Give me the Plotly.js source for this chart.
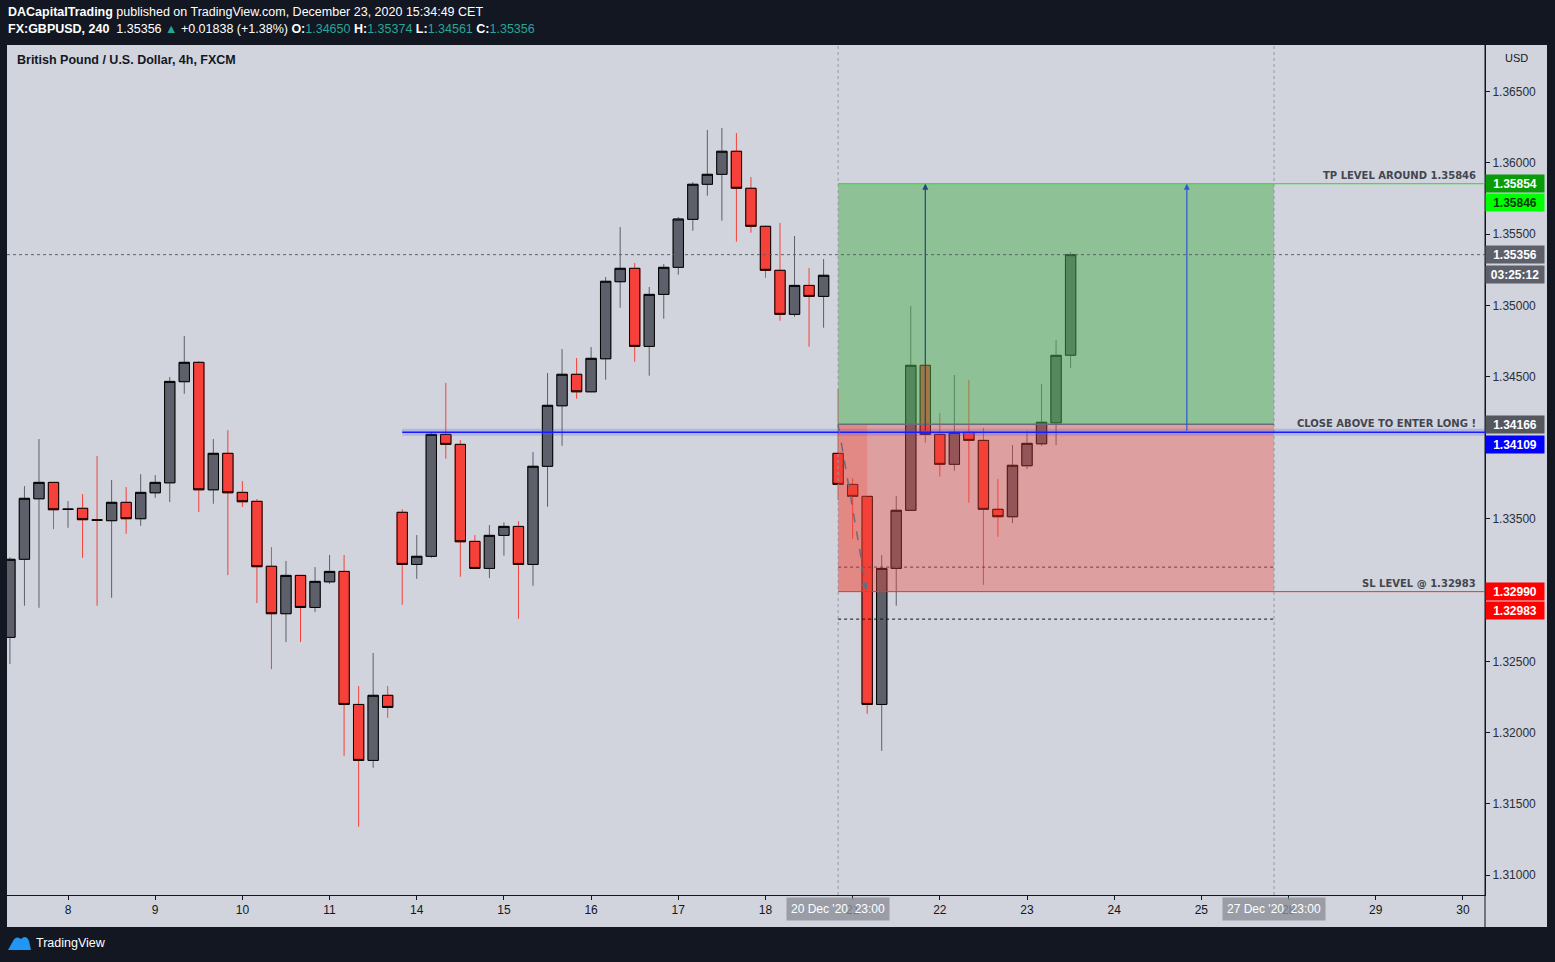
<!DOCTYPE html>
<html><head><meta charset="utf-8">
<script src="https://cdn.plot.ly/plotly-3.0.1.min.js"></script>
<style>html,body{margin:0;padding:0;background:#131722;overflow:hidden}#chart{width:1555px;height:962px}</style>
</head><body><div id="chart"></div>
<script>
// ---- Data: GBPUSD 4h candles (FXCM) ----
const opens = [1.32669,1.33217,1.33642,1.33757,1.33567,1.33575,1.33494,1.33488,1.33617,1.33502,
1.33684,1.33754,1.34464,1.34600,1.33705,1.33961,1.33687,1.33624,1.33168,1.32835,
1.33104,1.32879,1.33059,1.33132,1.32198,1.31805,1.32262,1.33547,1.33181,1.33238,
1.34094,1.34024,1.33343,1.33153,1.33385,1.33448,1.33181,1.33870,1.34295,1.34516,
1.34393,1.34625,1.35166,1.35260,1.34712,1.35077,1.35267,1.35604,1.35850,1.35920,
1.36082,1.35822,1.35555,1.35246,1.34937,1.35140,1.35063,1.33961,1.33743,1.33659,
1.32198,1.33153,1.33561,1.34579,1.34094,1.33884,1.34108,1.34052,1.33568,1.33516,
1.33874,1.34028,1.34175,1.34650];
const highs = [1.33231,1.33731,1.34061,1.33760,1.33626,1.33675,1.33942,1.33773,1.33724,1.33815,
1.33808,1.34497,1.34785,1.34609,1.34061,1.34124,1.33766,1.33640,1.33303,1.33205,
1.33106,1.33162,1.33247,1.33247,1.32327,1.32559,1.32327,1.33568,1.33387,1.34106,
1.34455,1.34054,1.33387,1.33457,1.33476,1.33485,1.33970,1.34525,1.34693,1.34630,
1.34707,1.35199,1.35550,1.35297,1.35129,1.35290,1.35620,1.35866,1.36231,1.36245,
1.36210,1.35901,1.35560,1.35578,1.35487,1.35262,1.35325,1.34412,1.33787,1.33662,
1.33247,1.33661,1.34995,1.34582,1.34244,1.34511,1.34476,1.34139,1.33780,1.34019,
1.34117,1.34447,1.34756,1.35374];
const lows = [1.32481,1.32891,1.32877,1.33429,1.33438,1.33228,1.32891,1.32947,1.33396,1.33452,
1.33649,1.33619,1.34379,1.33549,1.33607,1.33106,1.33584,1.32910,1.32446,1.32636,
1.32636,1.32846,1.33045,1.31837,1.31339,1.31753,1.32104,1.32898,1.33080,1.33228,
1.33923,1.33094,1.33150,1.33085,1.33242,1.32799,1.33031,1.33586,1.34014,1.34344,
1.34390,1.34478,1.34983,1.34604,1.34506,1.34906,1.35215,1.35524,1.35770,1.35594,
1.35447,1.35510,1.35194,1.34892,1.34920,1.34709,1.34843,1.33633,1.33361,1.32132,
1.31872,1.32891,1.33558,1.34035,1.33797,1.33839,1.33614,1.33038,1.33375,1.33471,
1.33851,1.34014,1.34019,1.34561];
const closes = [1.33217,1.33645,1.33757,1.33565,1.33569,1.33495,1.33492,1.33617,1.33502,1.33687,
1.33757,1.34466,1.34600,1.33705,1.33961,1.33684,1.33621,1.33165,1.32835,1.33104,
1.32879,1.33062,1.33132,1.32198,1.31805,1.32262,1.32177,1.33181,1.33238,1.34094,
1.34024,1.33340,1.33153,1.33385,1.33448,1.33181,1.33870,1.34298,1.34516,1.34393,
1.34628,1.35169,1.35260,1.34712,1.35077,1.35267,1.35606,1.35850,1.35920,1.36082,
1.35822,1.35555,1.35246,1.34937,1.35140,1.35063,1.35211,1.33743,1.33659,1.32198,
1.33153,1.33561,1.34579,1.34094,1.33884,1.34108,1.34052,1.33568,1.33516,1.33877,
1.34031,1.34179,1.34649,1.35356];

// Levels drawn on the chart
const tpLevel = 1.35854, tpLabel = 1.35846;
const entryLevel = 1.34166, blueLevel = 1.34109;
const slLevel = 1.32990, slLabel = 1.32983;
const lastPrice = 1.35356;
const midDotLevel = 1.33162, lowDotLevel = 1.32797;
const yTicks = [1.31,1.315,1.32,1.325,1.33,1.335,1.34,1.345,1.35,1.355,1.36,1.365];

// Time points (CET wall clock, stored as UTC numbers)
const firstBar = Date.UTC(2020,11,7,11), lastDay = Date.UTC(2020,11,31);
const posStartT = Date.UTC(2020,11,20,23), posEndT = Date.UTC(2020,11,27,23);
const blueStartT = Date.UTC(2020,11,13,23);
const arrow1T = Date.UTC(2020,11,21,23), arrow2T = Date.UTC(2020,11,24,23);
const darkZoneEndT = Date.UTC(2020,11,21,7);

// 4h bar schedule, FX market closed Fri 23:00 -> Sun 23:00
function buildSchedule(){
  const out=[]; let t=firstBar;
  while(t<lastDay){
    const d=new Date(t), wd=d.getUTCDay(), h=d.getUTCHours();
    const closed = wd===6 || (wd===5 && h>=23) || (wd===0 && h<23);
    if(!closed) out.push(t);
    t += 4*3600e3;
  }
  return out;
}
const schedule = buildSchedule();
const idxOf = t => schedule.indexOf(t);
const xs = opens.map((_,i)=>i);
const tickVals=[], tickText=[];
schedule.forEach((t,i)=>{const d=new Date(t); if(d.getUTCHours()===3){tickVals.push(i); tickText.push(String(d.getUTCDate()));}});

const posStart = idxOf(posStartT), posEnd = idxOf(posEndT);
const xRange = [-0.2, 101.52];
const yRange = [1.30860, 1.36828];

// pixel helpers for paper-positioned decorations
const pxX = p => (p-7)/1478;
const pxY = p => (895-p)/850;

const UP='#5d606b', DN='#f5413a';
const wicks = {
  type:'candlestick', x:xs, open:opens, high:highs, low:lows, close:closes,
  increasing:{line:{color:UP,width:1},fillcolor:UP},
  decreasing:{line:{color:DN,width:1},fillcolor:DN},
  hoverinfo:'skip', showlegend:false
};
const bodies = {
  type:'candlestick', x:xs, open:opens, close:closes,
  high:opens.map((o,i)=>Math.max(o,closes[i])), low:opens.map((o,i)=>Math.min(o,closes[i])),
  increasing:{line:{color:'#000000',width:1},fillcolor:UP},
  decreasing:{line:{color:'#000000',width:1},fillcolor:DN},
  hoverinfo:'skip', showlegend:false
};

const FONT = 'Liberation Sans, Arial, sans-serif';
const shapes = [
  {type:'rect',xref:'paper',yref:'paper',x0:pxX(1485),x1:pxX(1547),y0:pxY(927),y1:pxY(45),fillcolor:'#d1d4dc',line:{width:0},layer:'below'},
  {type:'rect',xref:'paper',yref:'paper',x0:pxX(7),x1:pxX(1485),y0:pxY(927),y1:pxY(895),fillcolor:'#d1d4dc',line:{width:0},layer:'below'},
  {type:'line',xref:'paper',yref:'paper',x0:1,x1:1,y0:pxY(927),y1:1,line:{color:'#131722',width:1}},
  // position tool zones
  {type:'rect',x0:posStart,x1:posEnd,y0:entryLevel,y1:tpLevel,fillcolor:'rgba(76,175,80,0.5)',line:{width:0},layer:'above'},
  {type:'rect',x0:posStart,x1:posEnd,y0:slLevel,y1:entryLevel,fillcolor:'rgba(244,67,54,0.36)',line:{width:0},layer:'above'},
  {type:'rect',x0:posStart,x1:idxOf(darkZoneEndT),y0:slLevel,y1:entryLevel,fillcolor:'rgba(244,67,54,0.25)',line:{width:0},layer:'above'},
  // price / time marker lines
  {type:'line',xref:'paper',x0:0,x1:1,y0:lastPrice,y1:lastPrice,line:{color:'#5d606b',width:1,dash:'dot'},layer:'above'},
  {type:'line',yref:'paper',x0:posStart,x1:posStart,y0:0,y1:1,line:{color:'#9598a1',width:1,dash:'dot'},layer:'above'},
  {type:'line',yref:'paper',x0:posEnd,x1:posEnd,y0:0,y1:1,line:{color:'#9598a1',width:1,dash:'dot'},layer:'above'},
  {type:'line',x0:posStart,x1:posEnd,y0:midDotLevel,y1:midDotLevel,line:{color:'#7a3a46',width:1,dash:'dot'},layer:'above'},
  {type:'line',x0:posStart,x1:posEnd,y0:lowDotLevel,y1:lowDotLevel,line:{color:'#111111',width:1,dash:'dot'},layer:'above'},
  {type:'line',x0:idxOf(blueStartT),x1:xRange[1],y0:blueLevel,y1:blueLevel,line:{color:'rgba(60,80,255,0.22)',width:7},layer:'above'},
  {type:'line',x0:idxOf(blueStartT),x1:xRange[1],y0:blueLevel,y1:blueLevel,line:{color:'#1a1aff',width:1.5},layer:'above'},
  {type:'line',x0:posStart,x1:posEnd,y0:entryLevel,y1:entryLevel,line:{color:'#6a6d78',width:1.5},layer:'above'},
  {type:'line',x0:posStart,x1:xRange[1],y0:tpLevel,y1:tpLevel,line:{color:'#22dd22',width:1},layer:'above'},
  {type:'line',x0:posStart,x1:xRange[1],y0:slLevel,y1:slLevel,line:{color:'#ff2a2a',width:1},layer:'above'},
  {type:'path',path:`M ${posStart},${entryLevel-0.00004} Q ${posStart+1.1},1.3352 ${posStart+1.95},${slLevel+0.0001}`,line:{color:'#6a6d78',width:1.5,dash:'dash'},layer:'above'},
  // TradingView logo
  {type:'path',xref:'paper',yref:'paper',
   path:`M ${pxX(8)},${pxY(950)} L ${pxX(13)},${pxY(941)} Q ${pxX(16)},${pxY(935)} ${pxX(21)},${pxY(939)} Q ${pxX(26)},${pxY(934)} ${pxX(29)},${pxY(941)} L ${pxX(31)},${pxY(950)} Z`,
   fillcolor:'#2196f3',line:{width:0}}
];

function priceBox(val, text, bg, fg, shift){
  return {xref:'paper',yref:'y',x:1,y:val,xanchor:'left',yanchor:'middle',yshift:shift||0,
    text:'<b>'+text+'</b>',showarrow:false,bgcolor:bg,width:54,height:13,borderpad:2,
    font:{family:FONT,size:12,color:fg},align:'center'};
}
function levelText(val, text){
  return {xref:'paper',yref:'y',x:pxX(1478),y:val,xanchor:'right',yanchor:'bottom',yshift:1,
    text:'<b>'+text+'</b>',showarrow:false,font:{family:'DejaVu Sans, sans-serif',size:10,color:'#434651'}};
}
const teal = s => '<span style="color:#26a69a">'+s+'</span>';
const annotations = [
  {xref:'paper',yref:'paper',x:pxX(6),y:pxY(12),xanchor:'left',yanchor:'middle',showarrow:false,
   text:'<b>DACapitalTrading</b> published on TradingView.com, December 23, 2020 15:34:49 CET',font:{family:FONT,size:12.5,color:'#ffffff'}},
  {xref:'paper',yref:'paper',x:pxX(6),y:pxY(29),xanchor:'left',yanchor:'middle',showarrow:false,
   text:'<b>FX:GBPUSD, 240</b>  1.35356 '+teal('▲')+' +0.01838 (+1.38%) <b>O:</b>'+teal('1.34650')+' <b>H:</b>'+teal('1.35374')+' <b>L:</b>'+teal('1.34561')+' <b>C:</b>'+teal('1.35356'),
   font:{family:FONT,size:12.5,color:'#ffffff'}},
  {xref:'paper',yref:'paper',x:pxX(15),y:pxY(60),xanchor:'left',yanchor:'middle',showarrow:false,
   text:'<b>British Pound / U.S. Dollar, 4h, FXCM</b>',font:{family:FONT,size:12.5,color:'#131722'}},
  {xref:'paper',yref:'paper',x:pxX(1516),y:pxY(58),xanchor:'center',yanchor:'middle',showarrow:false,
   text:'USD',font:{family:FONT,size:11,color:'#131722'}},
  {xref:'paper',yref:'paper',x:pxX(34),y:pxY(943),xanchor:'left',yanchor:'middle',showarrow:false,
   text:'TradingView',font:{family:FONT,size:12.5,color:'#ffffff'}},
  levelText(tpLevel,'TP LEVEL AROUND 1.35846'),
  levelText(blueLevel,'CLOSE ABOVE TO ENTER LONG !'),
  levelText(slLevel,'SL LEVEL @ 1.32983'),
  priceBox(tpLevel,'1.35854','#089c08','#ffffff',0),
  priceBox(tpLabel,'1.35846','#00ff00','#0a3a0a',-18),
  priceBox(lastPrice,'1.35356','#5d606b','#ffffff',0),
  priceBox(lastPrice,'03:25:12','#5d606b','#ffffff',-20),
  priceBox(entryLevel,'1.34166','#55575f','#ffffff',0),
  priceBox(blueLevel,'1.34109','#0000ff','#ffffff',-12),
  priceBox(slLevel,'1.32990','#ff0000','#ffffff',0),
  priceBox(slLabel,'1.32983','#ff0000','#ffffff',-18),
  {xref:'x',yref:'paper',x:posStart,y:pxY(909),xanchor:'center',yanchor:'middle',showarrow:false,
   text:"20 Dec '20  23:00",bgcolor:'rgba(140,143,153,0.8)',borderpad:4,font:{family:FONT,size:12,color:'#ffffff'}},
  {xref:'x',yref:'paper',x:posEnd,y:pxY(909),xanchor:'center',yanchor:'middle',showarrow:false,
   text:"27 Dec '20  23:00",bgcolor:'rgba(140,143,153,0.8)',borderpad:4,font:{family:FONT,size:12,color:'#ffffff'}},
  {x:idxOf(arrow1T),y:tpLevel,ax:idxOf(arrow1T),ay:blueLevel,axref:'x',ayref:'y',showarrow:true,
   arrowhead:2,arrowsize:1,arrowwidth:1.2,arrowcolor:'#24457a',text:''},
  {x:idxOf(arrow2T),y:tpLevel,ax:idxOf(arrow2T),ay:blueLevel,axref:'x',ayref:'y',showarrow:true,
   arrowhead:2,arrowsize:1,arrowwidth:1.2,arrowcolor:'#2a5bd0',text:''},
  {x:posStart+1.95,y:slLevel+0.0001,ax:posStart+1.75,ay:slLevel+0.0008,axref:'x',ayref:'y',showarrow:true,
   arrowhead:2,arrowsize:1,arrowwidth:1.5,arrowcolor:'#6a6d78',text:''}
];

const layout = {
  width:1555, height:962,
  margin:{l:7,r:70,t:45,b:67,pad:0},
  paper_bgcolor:'#131722', plot_bgcolor:'#d1d4dc',
  showlegend:false, hovermode:false, dragmode:false,
  boxgap:0.29, boxgroupgap:0,
  xaxis:{range:xRange,tickvals:tickVals,ticktext:tickText,ticks:'outside',ticklen:4,tickcolor:'#131722',
    showline:true,linecolor:'#131722',linewidth:1,showgrid:false,zeroline:false,rangeslider:{visible:false},
    tickfont:{family:FONT,size:12,color:'#131722'},fixedrange:true},
  yaxis:{range:yRange,side:'right',tickvals:yTicks,tickformat:'.5f',ticks:'outside',ticklen:4,tickcolor:'#131722',
    showline:true,linecolor:'#131722',linewidth:1,showgrid:false,zeroline:false,
    tickfont:{family:FONT,size:12,color:'#2a2e39'},fixedrange:true},
  shapes:shapes, annotations:annotations,
  font:{family:FONT}
};
Plotly.newPlot('chart',[wicks,bodies],layout,{displayModeBar:false,staticPlot:true});
</script></body></html>
